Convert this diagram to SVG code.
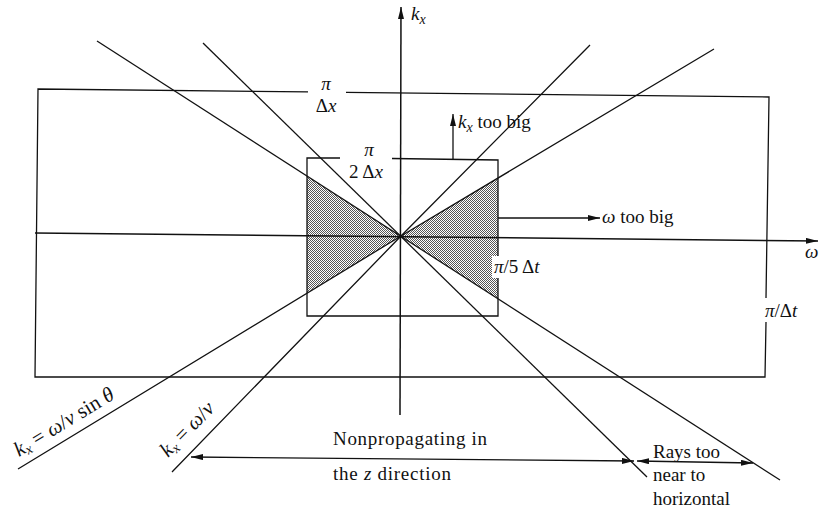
<svg xmlns="http://www.w3.org/2000/svg" width="820" height="510" viewBox="0 0 820 510">
<style>
.ln{stroke:#111;stroke-width:1.3;fill:none}
.ax{stroke:#111;stroke-width:1.5;fill:none}
.t{font-family:"Liberation Serif","Times New Roman",serif;font-size:19px;fill:#111}
.r{font-size:21px}
.i{font-style:italic}
.sub{font-size:14px;font-style:italic}
</style>
<defs>
<marker id="ah" viewBox="0 0 12 6" refX="12" refY="3" markerWidth="12" markerHeight="6" markerUnits="userSpaceOnUse" orient="auto-start-reverse">
<path d="M0,0 L12,3 L0,6 z" fill="#111"/>
</marker>
<pattern id="dots" width="2" height="2" patternUnits="userSpaceOnUse">
<rect width="2" height="2" fill="#fff"/>
<rect x="0" y="0" width="1" height="1" fill="#555"/>
<rect x="1" y="1" width="1" height="1" fill="#555"/>
</pattern>
</defs>
<rect width="820" height="510" fill="#fff"/>

<g id="shading">
<polygon points="307,176.5 401,236 307,292.5" fill="url(#dots)"/>
<polygon points="498,178 401,236 498,298.5" fill="url(#dots)"/>
</g>

<g id="outer-rect">
<polyline class="ln" points="308,91.9 38,89 35,377 765,377 766,322"/>
<polyline class="ln" points="346,92.3 769,97 766,298"/>
</g>

<g id="inner-rect">
<polyline class="ln" points="340,158 307,158 307,316 498,316 498,278"/>
<polyline class="ln" points="392,158.5 498,160 498,257"/>
</g>

<g id="rays">
<line class="ln" x1="203" y1="43" x2="647" y2="477"/>
<line class="ln" x1="97" y1="41" x2="780" y2="480"/>
<polyline class="ln" points="172,472 401,236 590,45"/>
<polyline class="ln" points="18,469 401,236 714,49"/>
</g>

<g id="axes">
<line class="ax" x1="35" y1="233" x2="818" y2="241" marker-end="url(#ah)"/>
<line class="ax" x1="400" y1="415" x2="401" y2="7" marker-end="url(#ah)"/>
</g>

<g id="connectors">
<line class="ln" x1="453" y1="159" x2="453" y2="114" marker-end="url(#ah)"/>
<line class="ln" x1="498" y1="218" x2="600" y2="218" marker-end="url(#ah)"/>
<line class="ln" x1="191" y1="457" x2="634" y2="461" marker-start="url(#ah)" marker-end="url(#ah)"/>
<line class="ln" x1="637" y1="461" x2="753" y2="463" marker-start="url(#ah)" marker-end="url(#ah)"/>
</g>

<g id="label-masks" fill="#fff">
<rect x="492" y="256" width="60" height="22"/>
<rect x="762" y="298" width="40" height="24"/>
</g>

<g id="labels">
<text class="t i" x="411" y="20">k<tspan class="sub" dy="4">x</tspan></text>
<text class="t i" x="805" y="258">ω</text>

<text class="t i" x="326" y="90" text-anchor="middle">π</text>
<text class="t" x="326" y="112" text-anchor="middle">Δ<tspan class="i">x</tspan></text>

<text class="t i" x="369" y="156" text-anchor="middle">π</text>
<text class="t" x="366" y="178" text-anchor="middle">2 Δ<tspan class="i">x</tspan></text>

<text class="t" x="458" y="128"><tspan class="i">k</tspan><tspan class="sub" dy="4">x</tspan><tspan dy="-4">  too big</tspan></text>
<text class="t" x="602" y="223"><tspan class="i">ω</tspan> too big</text>

<text class="t" x="494" y="273"><tspan class="i">π</tspan>/5 Δ<tspan class="i">t</tspan></text>
<text class="t" x="765" y="317"><tspan class="i">π</tspan>/Δ<tspan class="i">t</tspan></text>

<text class="t r" transform="translate(19,457) rotate(-31.3)"><tspan class="i">k</tspan><tspan class="sub" dy="3">x</tspan><tspan dy="-3"> = </tspan><tspan class="i">ω</tspan>/<tspan class="i">v</tspan> sin <tspan class="i">θ</tspan></text>
<text class="t r" transform="translate(168,458) rotate(-45.5)"><tspan class="i">k</tspan><tspan class="sub" dy="3">x</tspan><tspan dy="-3"> = </tspan><tspan class="i">ω</tspan>/<tspan class="i">v</tspan></text>

<text class="t" x="333" y="445" textLength="154" lengthAdjust="spacing">Nonpropagating in</text>
<text class="t" x="333" y="480" textLength="118" lengthAdjust="spacing">the <tspan class="i">z</tspan> direction</text>

<text class="t" x="653" y="458">Rays too</text>
<text class="t" x="653" y="481">near to</text>
<text class="t" x="653" y="505">horizontal</text>
</g>
</svg>
